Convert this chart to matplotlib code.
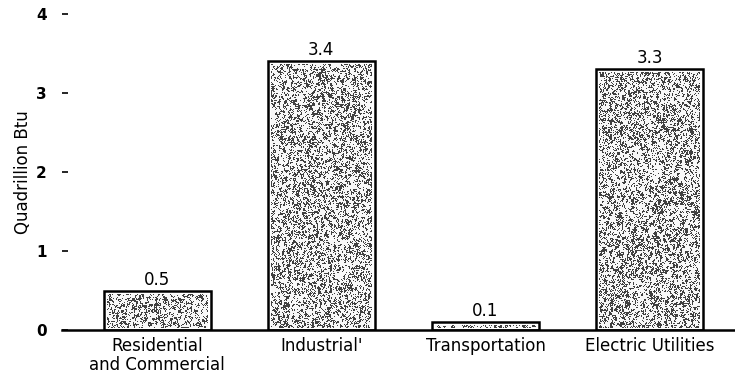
import numpy as np
import matplotlib
matplotlib.use("Agg")
import matplotlib.pyplot as plt
from matplotlib.patches import Rectangle

# Energy consumption by sector
categories = ["Residential\nand Commercial", "Industrial'", "Transportation", "Electric Utilities"]
values = [0.5, 3.4, 0.1, 3.3]
value_labels = ["0.5", "3.4", "0.1", "3.3"]
y_ticks = [0, 1, 2, 3, 4]

plt.rcParams["font.family"] = ["DejaVu Sans"]

fig = plt.figure(figsize=(7.35, 3.82), dpi=100)
ax = fig.add_axes([62 / 735, 52 / 382, 1 - 62 / 735, (330 - 14) / 382])

x = np.arange(len(categories))
bar_width = 0.65
bars = ax.bar(x, values, width=bar_width, facecolor="white", edgecolor="black",
              linewidth=1.8, zorder=1)

# data units per pixel (x and y)
px_x = 1 / 164
px_y = 1 / 79


def smooth(a, ky, kx):
    out = np.zeros_like(a)
    for dy in range(ky):
        for dx in range(kx):
            out += np.roll(np.roll(a, dy, axis=0), dx, axis=1)
    return out / (ky * kx)


# stippled shading inside each bar, inset from the outline
rng = np.random.default_rng(11)
for rect in bars:
    x0, y0 = rect.get_x(), rect.get_y()
    w, h = rect.get_width(), rect.get_height()
    ix0, ix1 = x0 + 3 * px_x, x0 + w - 3 * px_x
    iy0, iy1 = y0 + 2 * px_y, y0 + h - 3 * px_y
    if iy1 <= iy0:
        continue
    ny = max(int(round((iy1 - iy0) / px_y)), 2)
    nx = int(round((ix1 - ix0) / px_x))
    field = smooth(rng.random((ny, nx)), 3, 2)
    fine = rng.random((ny, nx))
    tex = 0.7 * field + 0.3 * fine
    img = np.where(tex > 0.55, 0.25, 0.97)
    im = ax.imshow(img, cmap="gray", vmin=0, vmax=1, interpolation="nearest",
                   extent=(ix0, ix1, iy0, iy1), aspect="auto", zorder=2)
    im.set_clip_path(Rectangle((ix0, iy0), ix1 - ix0, iy1 - iy0,
                               transform=ax.transData))

for xi, v, lab in zip(x, values, value_labels):
    ax.text(xi, v + 0.025, lab, ha="center", va="bottom", fontsize=12)

ax.set_xlim(-0.58, 3.52)
ax.set_ylim(0, 4)
ax.set_yticks(y_ticks)
ax.set_yticklabels([str(t) for t in y_ticks], fontsize=11, fontweight="bold")
ax.tick_params(axis="y", direction="in", length=4, width=1.2, pad=11)
ax.set_xticks(x)
ax.set_xticklabels(categories, fontsize=12, linespacing=1.05)
ax.tick_params(axis="x", length=0, pad=5)

for side in ["left", "right", "top"]:
    ax.spines[side].set_visible(False)
ax.spines["bottom"].set_linewidth(1.8)
ax.spines["bottom"].set_zorder(4)

ax.set_ylabel("Quadrillion Btu", fontsize=12)
ax.yaxis.set_label_coords(-0.045, 0.5)

fig.savefig("out.png", dpi=100)
